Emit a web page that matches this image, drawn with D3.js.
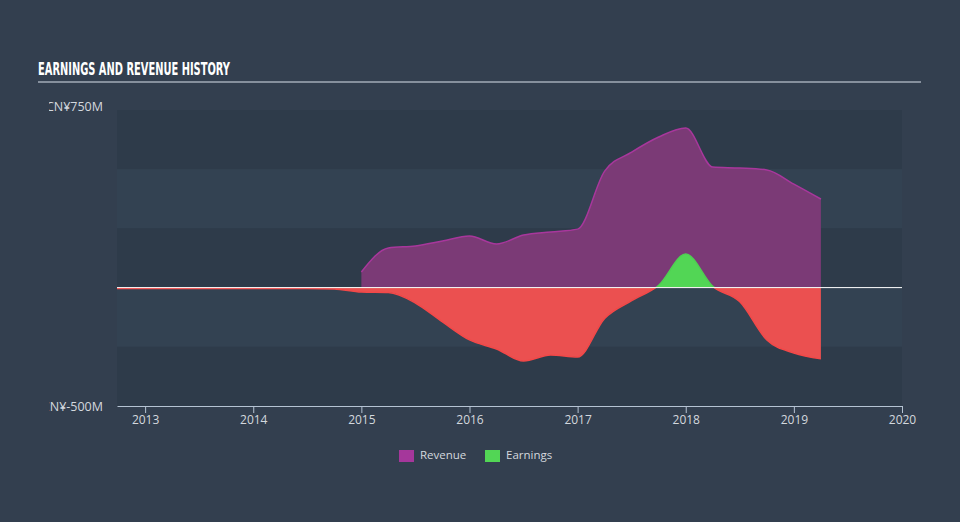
<!DOCTYPE html>
<html>
<head>
<meta charset="utf-8">
<script src="https://cdn.jsdelivr.net/npm/d3@7"></script>
<style>
  html, body { margin: 0; padding: 0; background: #333f4f; }
  svg { display: block; }
</style>
</head>
<body>
<svg id="viz" width="960" height="522"></svg>
<script>
// values in millions, x in fractional years
var revDates = [2015.0, 2015.25, 2015.5, 2015.75, 2016.0, 2016.25, 2016.5, 2016.75, 2017.0,
                2017.25, 2017.5, 2017.75, 2018.0, 2018.25, 2018.5, 2018.75, 2019.0, 2019.25];
var revenue  = [66, 167, 176, 197, 218, 184, 222, 235, 247,
                492, 572, 636, 674, 509, 505, 497, 437, 374];

var earnDates = [2012.74, 2013.5, 2014.5, 2014.75, 2015.0, 2015.25, 2015.5, 2015.75, 2016.0, 2016.25,
                 2016.5, 2016.75, 2017.0, 2017.25, 2017.5, 2017.75, 2018.0, 2018.25, 2018.5,
                 2018.75, 2019.0, 2019.25];
var earnings  = [-4, -4, -4, -6, -19, -21, -65, -145, -221, -259,
                 -310, -285, -293, -130, -55, 10, 142, 5, -60,
                 -221, -276, -301];

var yearTicks = [2013, 2014, 2015, 2016, 2017, 2018, 2019, 2020];
var yTicks = [750, -500];
var yLabels = ["CN¥750M", "CN¥-500M"];
var bandEdges = [750, 500, 250, 0, -250, -500];
var legendItems = ["Revenue", "Earnings"];
var legendColors = ["#a5379b", "#52d655"];

var svg = d3.select("#viz");
var plotLeft = 117, plotRight = 902, plotTop = 110, plotBottom = 406;

var x = d3.scaleLinear().domain([2012.74, 2020]).range([plotLeft, plotRight]);
var y = d3.scaleLinear().domain([-500, 750]).range([plotBottom, plotTop]);

// background bands
for (var i = 0; i < bandEdges.length - 1; i++) {
    svg.append("rect")
        .attr("x", plotLeft)
        .attr("y", y(bandEdges[i]))
        .attr("width", plotRight - plotLeft)
        .attr("height", y(bandEdges[i + 1]) - y(bandEdges[i]))
        .attr("fill", i % 2 == 0 ? "#2e3b4a" : "#334252");
}

// title
svg.append("text")
    .attr("x", 38).attr("y", 75)
    .text("EARNINGS AND REVENUE HISTORY")
    .style("fill", "#ffffff")
    .style("font-family", "'DejaVu Sans Condensed', 'Liberation Sans Narrow', sans-serif")
    .style("font-weight", "bold")
    .style("font-size", "17px")
    .attr("textLength", 192)
    .attr("lengthAdjust", "spacingAndGlyphs");

svg.append("line")
    .attr("x1", 38).attr("x2", 921)
    .attr("y1", 82).attr("y2", 82)
    .attr("stroke", "#a3acb7").attr("stroke-width", 1.5);

// y labels, clipped on the left like the original
svg.append("clipPath").attr("id", "ylabClip")
    .append("rect").attr("x", 49).attr("y", 90).attr("width", 66).attr("height", 330);

svg.append("g").attr("clip-path", "url(#ylabClip)")
    .selectAll("text")
    .data(yTicks)
    .enter()
    .append("text")
    .attr("x", 103)
    .attr("y", function (d) { return y(d) + (d > 0 ? -2 : 2); })
    .attr("text-anchor", "end")
    .attr("dominant-baseline", "middle")
    .text(function (d, i) { return yLabels[i]; })
    .style("fill", "#d3d8de")
    .style("font-family", "'Open Sans', sans-serif")
    .style("font-size", "12.5px");

// revenue area
var revData = revDates.map(function (d, i) { return { x: d, v: revenue[i] }; });
var earnData = earnDates.map(function (d, i) { return { x: d, v: earnings[i] }; });

var area = d3.area()
    .x(function (d) { return x(d.x); })
    .y0(y(0))
    .y1(function (d) { return y(d.v); })
    .curve(d3.curveMonotoneX);

var line = d3.line()
    .x(function (d) { return x(d.x); })
    .y(function (d) { return y(d.v); })
    .curve(d3.curveMonotoneX);

svg.append("path").datum(revData)
    .attr("d", area)
    .attr("fill", "#7b3a76");
svg.append("path").datum(revData)
    .attr("d", line)
    .attr("fill", "none")
    .attr("stroke", "#a8379c")
    .attr("stroke-width", 1.5);

// earnings area: green above zero, red below
svg.append("clipPath").attr("id", "posClip")
    .append("rect").attr("x", plotLeft).attr("y", plotTop).attr("width", plotRight - plotLeft).attr("height", y(0) - plotTop);
svg.append("clipPath").attr("id", "negClip")
    .append("rect").attr("x", plotLeft).attr("y", y(0)).attr("width", plotRight - plotLeft).attr("height", plotBottom - y(0));

var pos = svg.append("g").attr("clip-path", "url(#posClip)");
pos.append("path").datum(earnData).attr("d", area).attr("fill", "#52d655");
pos.append("path").datum(earnData).attr("d", line).attr("fill", "none")
    .attr("stroke", "#4fcf52").attr("stroke-width", 1.5);

var neg = svg.append("g").attr("clip-path", "url(#negClip)");
neg.append("path").datum(earnData).attr("d", area).attr("fill", "#eb5050");
neg.append("path").datum(earnData).attr("d", line).attr("fill", "none")
    .attr("stroke", "#f24848").attr("stroke-width", 1.5);

// zero line
svg.append("line")
    .attr("x1", plotLeft).attr("x2", plotRight)
    .attr("y1", y(0)).attr("y2", y(0))
    .attr("stroke", "#ffffff").attr("stroke-width", 1);

// x axis
var xAxis = svg.append("g")
    .attr("transform", "translate(0," + plotBottom + ")")
    .call(d3.axisBottom(x).tickValues(yearTicks).tickFormat(d3.format("d")).tickSize(7).tickSizeOuter(0));
xAxis.select(".domain").attr("stroke", "#b5c3d3");
xAxis.selectAll(".tick line").attr("stroke", "#b5c3d3");
xAxis.selectAll(".tick text")
    .attr("y", 9)
    .style("fill", "#d3d8de")
    .style("font-family", "'Open Sans', sans-serif")
    .style("font-size", "12px");

// legend
var legend = svg.append("g").attr("class", "legend");
var legendX = [399, 485];
legendItems.forEach(function (name, i) {
    legend.append("rect")
        .attr("x", legendX[i]).attr("y", 450)
        .attr("width", 15).attr("height", 12)
        .attr("fill", legendColors[i]);
    legend.append("text")
        .attr("x", legendX[i] + 21).attr("y", 456)
        .attr("dominant-baseline", "middle")
        .text(name)
        .style("fill", "#d3d8de")
        .style("font-family", "'Open Sans', sans-serif")
        .style("font-size", "11.5px");
});
</script>
</body>
</html>
